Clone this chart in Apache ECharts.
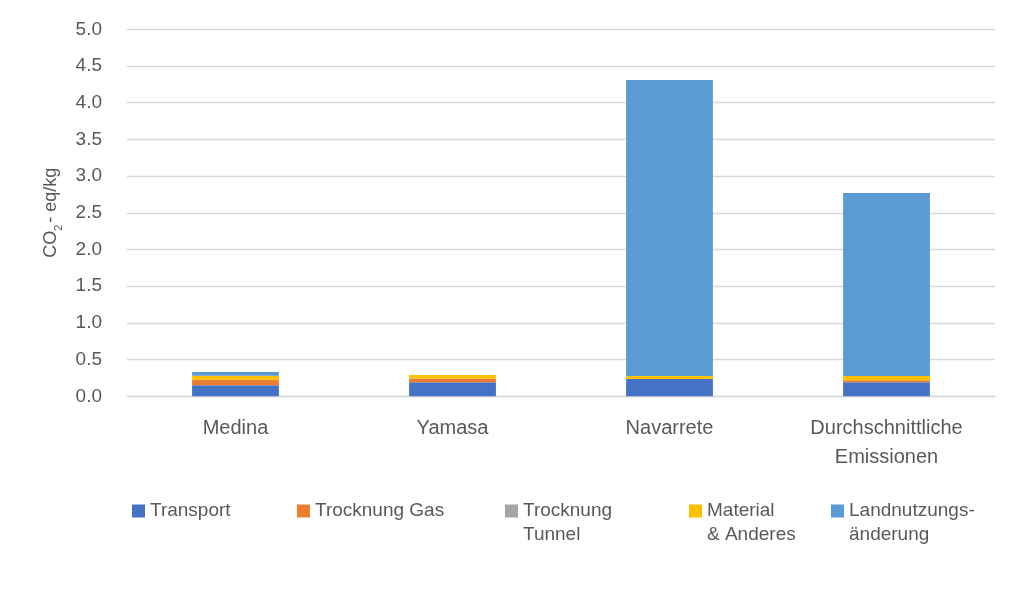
<!DOCTYPE html>
<html>
<head>
<meta charset="utf-8">
<script src="https://cdn.jsdelivr.net/npm/echarts@6/dist/echarts.min.js"></script>
<style>
html,body{margin:0;padding:0;background:#fff;}
#chart{width:1024px;height:591px;}
</style>
</head>
<body>
<div id="chart"></div>
<script>
const categories = ['Medina', 'Yamasa', 'Navarrete', 'Durchschnittliche\nEmissionen'];
const seriesNames = ['Transport', 'Trocknung Gas', 'Trocknung Tunnel', 'Material & Anderes', 'Landnutzungsänderung'];
const legendLabels = ['Transport', 'Trocknung Gas', 'Trocknung\nTunnel', 'Material\n& Anderes', 'Landnutzungs-\nänderung'];
const transport = [0.15, 0.19, 0.235, 0.19];
const trocknungGas = [0.075, 0.05, 0.0, 0.03];
const trocknungTunnel = [0, 0, 0, 0];
const material = [0.055, 0.05, 0.04, 0.055];
const landnutzung = [0.05, 0.0, 4.035, 2.495];
const yTicks = [0, 0.5, 1, 1.5, 2, 2.5, 3, 3.5, 4, 4.5, 5];

const values = [transport, trocknungGas, trocknungTunnel, material, landnutzung];
const colors = ['#4472C4', '#ED7D31', '#A5A5A5', '#FFC000', '#5B9BD5'];
const FONT = 'Liberation Sans';
const TXT = '#595959';

const chart = echarts.init(document.getElementById('chart'));
const legendLefts = [132, 297, 505, 689, 831];
const legends = seriesNames.map((n, i) => {
  const lbl = legendLabels[i];
  const multi = lbl.indexOf('\n') >= 0;
  return {
    data: [{name: n, icon: 'rect'}],
    left: legendLefts[i],
    top: multi ? 475 : 499,
    padding: 0,
    itemWidth: 13,
    itemHeight: 13,
    selectedMode: false,
    formatter: () => multi ? '\n' + lbl : lbl,
    textStyle: {fontFamily: FONT, fontSize: 19, color: TXT, lineHeight: 24}
  };
});

chart.setOption({
  animation: false,
  backgroundColor: '#fff',
  grid: {left: 127, width: 868, top: 29.3, height: 367},
  legend: legends,
  xAxis: {
    type: 'category',
    data: categories,
    axisLine: {lineStyle: {color: '#d9d9d9', width: 1.3}},
    axisTick: {show: false},
    axisLabel: {fontFamily: FONT, fontSize: 20, color: TXT, margin: 18, lineHeight: 29, interval: 0}
  },
  yAxis: {
    type: 'value',
    min: 0, max: 5, interval: 0.5,
    name: '{a|CO}{b|2}{a|- eq/kg}',
    nameLocation: 'middle',
    nameGap: 66,
    nameRotate: 90,
    nameTextStyle: {
      rich: {
        a: {fontFamily: FONT, fontSize: 18, color: TXT, lineHeight: 22, verticalAlign: 'bottom'},
        b: {fontFamily: FONT, fontSize: 11, color: TXT, verticalAlign: 'bottom', lineHeight: 22, padding: [0, 2, -5, 0]}
      }
    },
    axisLine: {show: false},
    axisTick: {show: false},
    splitLine: {lineStyle: {color: '#d9d9d9', width: 1.3}},
    axisLabel: {
      fontFamily: FONT, fontSize: 19, color: TXT, margin: 25,
      formatter: v => (yTicks.indexOf(v) >= 0 ? v.toFixed(1) : '')
    }
  },
  series: seriesNames.map((n, i) => ({
    name: n,
    type: 'bar',
    stack: 'total',
    barWidth: '40%',
    data: values[i],
    itemStyle: {color: colors[i]}
  }))
});
</script>
</body>
</html>
